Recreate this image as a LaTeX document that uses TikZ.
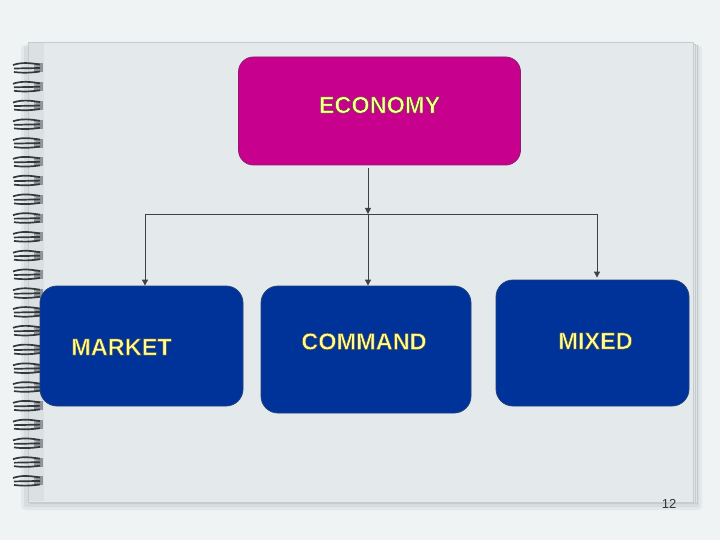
\documentclass[tikz,border=0pt]{standalone}
\usepackage{fontspec}
\setmainfont{Liberation Sans}
\usetikzlibrary{arrows.meta}
\definecolor{bgc}{HTML}{EFF3F4}
\definecolor{pagec}{HTML}{E4E9EC}
\definecolor{pageedge}{HTML}{C5CCD0}
\definecolor{shadowc}{HTML}{CDD3D6}
\definecolor{magbox}{HTML}{C8008E}
\definecolor{magedge}{HTML}{8E1A6E}
\definecolor{bluebox}{HTML}{003399}
\definecolor{blueedge}{HTML}{23407A}
\definecolor{txtyel}{HTML}{FFFF99}
\definecolor{linec}{HTML}{3F4245}
\definecolor{ringc}{HTML}{35383B}
\definecolor{ringl}{HTML}{8E9498}
\newcommand{\outlinedtext}[1]{\special{pdf:literal direct 2 Tr 0.5 w 0.32 0.28 0.12 RG}#1\special{pdf:literal direct 0 Tr}}
\tikzset{
  ecobox/.style={draw=magedge, line width=0.8pt, fill=magbox, rounded corners=15pt, inner sep=0pt},
  typebox/.style={draw=blueedge, line width=0.8pt, fill=bluebox, rounded corners=17pt, inner sep=0pt},
  lbl/.style={text=txtyel, font=\fontsize{23.5}{26}\selectfont\bfseries, inner sep=0pt},
  conn/.style={draw=linec, line width=0.9pt},
  arr/.style={conn, -{Triangle[length=6pt,width=6pt]}},
}
\begin{document}
\begin{tikzpicture}[x=1pt,y=-1pt]
\useasboundingbox (0,0) rectangle (720,540);
\fill[bgc] (0,0) rectangle (720,540);
% page shadow and stacked edges
\fill[shadowc!35!bgc, rounded corners=4pt] (21,45) rectangle (702,510);
\fill[shadowc!70!bgc, rounded corners=2pt] (24,46) rectangle (699,507);
\draw[pageedge, fill=pagec!97!black] (31,45) rectangle (697,503);
\draw[pageedge, fill=pagec!98!black] (30,44) rectangle (695,503);
\draw[pageedge, fill=pagec] (28,42) rectangle (693,502);
\fill[pagec!96!black] (29,43) rectangle (44,501);
% spiral rings
\foreach \i in {0,...,22}{
  \pgfmathsetmacro{\yy}{68+\i*18.77}
  \fill[ringl] (34,\yy-4.5) rectangle (43,\yy+4.5);
  \draw[ringc, line width=1.7pt] (13,\yy-3) .. controls (22,\yy-6) and (30,\yy-5) .. (40,\yy-3.5);
  \draw[ringc, line width=1.7pt] (14,\yy+0.5) -- (40,\yy);
  \draw[ringc, line width=1.7pt] (14,\yy+4) .. controls (22,\yy+5) and (30,\yy+5) .. (40,\yy+3.5);
  \draw[white!70!ringl, line width=0.5pt] (20,\yy-1.5) -- (36,\yy-1.8);
}
% boxes
\node[ecobox, minimum width=282pt, minimum height=108pt,
      label={[name=ecolbl, lbl, yshift=6pt]center:\outlinedtext{ECONOMY}}] (eco) at (379.5,111) {};
\node[typebox, minimum width=203pt, minimum height=120pt,
      label={[name=marketlbl, lbl, xshift=-20pt, yshift=-1pt]center:\outlinedtext{MARKET}}] (market) at (141.5,346) {};
\node[typebox, minimum width=210pt, minimum height=127pt,
      label={[name=commandlbl, lbl, xshift=-2pt, yshift=8pt]center:\outlinedtext{COMMAND}}] (command) at (366,349.5) {};
\node[typebox, minimum width=193pt, minimum height=126pt,
      label={[name=mixedlbl, lbl, xshift=3pt, yshift=2pt]center:\outlinedtext{MIXED}}] (mixed) at (592.5,343) {};
% connectors
\coordinate (j) at (368,214);
\coordinate (jl) at (145,214);
\coordinate (jr) at (597,214);
\draw[arr, shorten <=3pt] (eco.south -| j) -- (j);
\draw[conn] (jl) -- (jr);
\draw[arr] (jl) -- (jl |- market.north);
\draw[arr] (j) -- (j |- command.north);
\draw[arr] (jr) -- ([yshift=2pt]jr |- mixed.north);
% page number
\node[text=black!80, font=\fontsize{13}{15}\selectfont, inner sep=0pt] (pnum) at (669,504) {12};
\end{tikzpicture}
\end{document}
